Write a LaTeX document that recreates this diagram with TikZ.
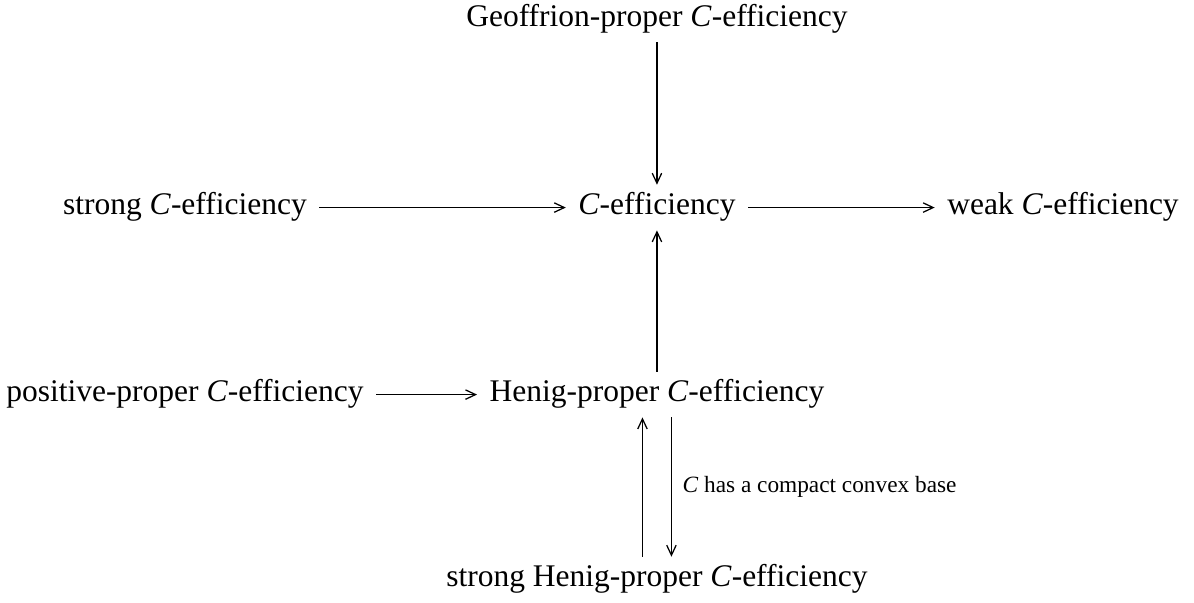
\documentclass[tikz,border=0pt]{standalone}
\usepackage{fontspec}
\setmainfont{Liberation Serif}
\usepackage{xcolor}
\usetikzlibrary{arrows.meta}

\begin{document}
\begin{tikzpicture}[cell/.style={anchor=base,inner xsep=3.8pt,inner ysep=2.5pt,text height=0.69em,text depth=0.22em,font=\fontsize{10}{12}\selectfont},
  >={Straight Barb[length=3.2pt,width=3pt]}]

\useasboundingbox (0,0) rectangle (13.324,6.729);

\node[cell] (geo) at (7.331,6.428) {Geoffrion-proper \textit{C}-efficiency};
\node[cell] (ceff) at (7.331,4.330) {\textit{C}-efficiency};
\node[cell] (strong) at (2.064,4.330) {strong \textit{C}-efficiency};
\node[cell] (weak) at (11.862,4.330) {weak \textit{C}-efficiency};
\node[cell] (pos) at (2.064,2.243) {positive-proper \textit{C}-efficiency};
\node[cell] (henig) at (7.331,2.243) {Henig-proper \textit{C}-efficiency};
\node[cell] (shenig) at (7.331,0.179) {strong Henig-proper \textit{C}-efficiency};

\draw[->] (geo) -- (ceff);
\draw[->] (strong) -- (ceff);
\draw[->] (ceff) -- (weak);
\draw[->] (henig) -- (ceff);
\draw[->] (pos) -- (henig);
\draw[->] ([xshift=-4.6pt]shenig.north) -- ([xshift=-4.6pt]henig.south);
\draw[->] ([xshift=4.6pt]henig.south) -- ([xshift=4.6pt]shenig.north) node[midway,right,font=\fontsize{7.4}{9}\selectfont] {\textit{C} has a compact convex base};

\end{tikzpicture}
\end{document}
